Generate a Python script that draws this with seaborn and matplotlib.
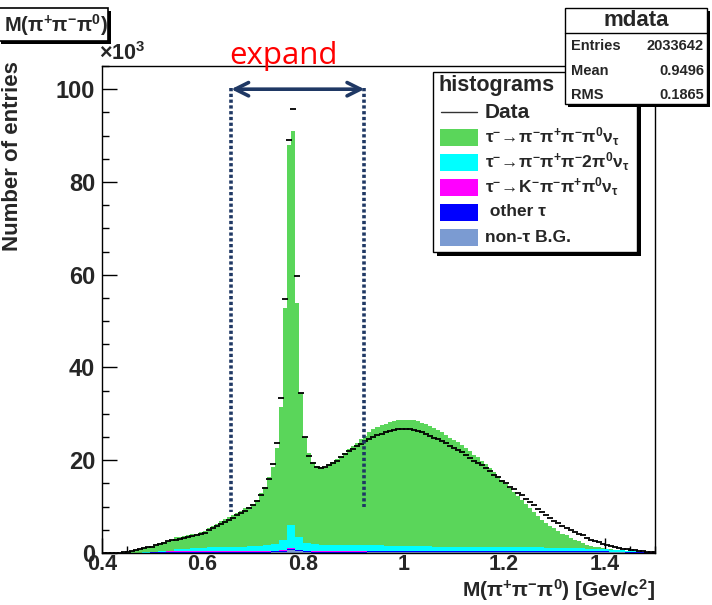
import numpy as np
import pandas as pd
import matplotlib
matplotlib.use("Agg")
import matplotlib.pyplot as plt
import seaborn as sns
from matplotlib.patches import Rectangle
from matplotlib.ticker import MultipleLocator, FixedLocator, FixedFormatter

# ---------------- data (thousands of entries per bin) ----------------
X_LO, X_HI = 0.4, 1.5
BIN_W = 0.008          # bin width of the main histograms
SMALL_W = 0.016        # bin width used for the small background components

# tau -> pi- pi+ pi- pi0 nu (visible top of the stack), bins 0.400 ... 1.504
green_counts = [
    0, 0, 0, 0, 0.05, 0.15, 0.3, 0.45, 0.6, 0.8,
    1.0, 1.2, 1.5, 1.8, 2.1, 2.3, 2.6, 2.9, 3.5, 3.4,
    3.6, 3.8, 4.0, 4.2, 4.5, 4.8, 5.4, 5.8, 6.3, 6.8,
    7.3, 7.7, 8.2, 8.6, 9.0, 9.6, 10.0, 10.6, 11.4, 12.9,
    14.3, 16.4, 18.6, 22.6, 31.5, 52.8, 88.0, 91.0, 54.0, 34.5,
    25.0, 21.5, 19.6, 18.8, 18.5, 18.6, 19.1, 19.6, 20.2, 20.8,
    21.6, 22.4, 23.1, 23.7, 24.5, 25.3, 26.0, 26.7, 27.2, 27.6,
    27.9, 28.2, 28.4, 28.6, 28.7, 28.7, 28.7, 28.6, 28.4, 28.1,
    27.8, 27.4, 27.0, 26.5, 26.0, 25.5, 24.9, 24.4, 23.9, 23.3,
    22.6, 21.9, 21.2, 20.6, 19.9, 19.1, 18.3, 17.4, 16.6, 15.7,
    14.9, 14.0, 13.1, 12.3, 11.4, 10.5, 9.6, 8.8, 7.9, 7.1,
    6.5, 5.9, 5.3, 4.7, 4.2, 3.8, 3.3, 2.9, 2.5, 2.1,
    1.8, 1.6, 1.4, 1.2, 1.0, 0.9, 0.8, 0.7, 0.6, 0.5,
    0.45, 0.4, 0.35, 0.3, 0.25, 0.2, 0.2, 0.15,
]

data_counts = [
    0, 0, 0, 0, 0.05, 0.15, 0.3, 0.4, 0.6, 0.8,
    1.0, 1.2, 1.4, 1.7, 2.0, 2.2, 2.5, 2.7, 2.9, 3.1,
    3.3, 3.5, 3.7, 3.9, 4.1, 4.4, 5.0, 5.4, 5.9, 6.3,
    6.7, 7.1, 7.6, 8.1, 8.6, 9.1, 9.7, 10.4, 11.3, 12.4,
    14.0, 16.0, 19.2, 23.7, 33.5, 54.7, 89.0, 95.7, 59.7, 34.5,
    25.0, 21.0, 19.4, 18.6, 18.4, 18.5, 18.9, 19.3, 19.9, 20.6,
    21.3, 21.9, 22.5, 23.1, 23.6, 24.1, 24.6, 25.0, 25.4, 25.7,
    26.0, 26.3, 26.5, 26.7, 26.8, 26.8, 26.7, 26.5, 26.3, 26.0,
    25.6, 25.2, 24.8, 24.5, 24.2, 23.7, 23.1, 22.6, 22.1, 21.7,
    21.1, 20.5, 19.9, 19.4, 18.9, 18.3, 17.6, 16.9, 16.3, 15.6,
    15.0, 14.3, 13.7, 13.0, 12.4, 11.7, 11.0, 10.3, 9.5, 8.8,
    8.2, 7.6, 7.0, 6.4, 5.9, 5.4, 4.9, 4.5, 4.1, 3.8,
    3.3, 2.9, 2.6, 2.3, 2.0, 1.8, 1.5, 1.3, 1.1, 0.9,
    0.8, 0.7, 0.55, 0.45, 0.35, 0.3, 0.25, 0.2,
]

# small components, bins 0.400 ... 1.504 in steps of 0.016
cyan_counts = [
    0, 0, 0, 0.05, 0.1, 0.15, 0.15, 0.1, 0.15, 0.45,
    0.55, 0.65, 0.75, 0.85, 0.85, 0.95, 0.95, 1.05, 1.15, 1.25,
    1.35, 1.6, 2.2, 4.85, 2.8, 1.8, 1.65, 1.45, 1.35, 1.35,
    1.35, 1.35, 1.35, 1.3, 1.25, 1.15, 1.15, 1.15, 1.05, 1.05,
    1.05, 0.95, 0.95, 0.95, 0.95, 0.95, 0.85, 0.85, 0.85, 0.85,
    0.72, 0.72, 0.72, 0.72, 0.72, 0.67, 0.67, 0.67, 0.57, 0.57,
    0.53, 0.53, 0.43, 0.43, 0.33, 0.29, 0.19, 0.14, 0.09,
]
magenta_counts = [
    0, 0, 0, 0, 0, 0, 0, 0.05, 0.05, 0.05,
    0.05, 0.05, 0.05, 0.05, 0.05, 0.05, 0.05, 0.05, 0.05, 0.05,
    0.05, 0.05, 0.1, 0.3, 0.15, 0.05, 0.05, 0.05, 0.05, 0.05,
    0.05, 0.05, 0.05, 0.05, 0.05, 0.05, 0.05, 0.05, 0.05, 0.05,
    0.05, 0.05, 0.05, 0.05, 0.05, 0.05, 0.05, 0.05, 0.05, 0.05,
    0.03, 0.03, 0.03, 0.03, 0.03, 0.03, 0.03, 0.03, 0.03, 0.03,
    0.02, 0.02, 0.02, 0.02, 0.02, 0.01, 0.01, 0.01, 0.01,
]
blue_counts = [
    0, 0, 0, 0, 0, 0.05, 0.1, 0.15, 0.2, 0.2,
    0.2, 0.2, 0.2, 0.2, 0.2, 0.2, 0.2, 0.2, 0.2, 0.2,
    0.2, 0.2, 0.2, 0.25, 0.2, 0.2, 0.2, 0.2, 0.2, 0.2,
    0.2, 0.2, 0.2, 0.2, 0.2, 0.2, 0.2, 0.2, 0.2, 0.2,
    0.2, 0.2, 0.2, 0.2, 0.2, 0.2, 0.2, 0.2, 0.2, 0.2,
    0.25, 0.25, 0.25, 0.25, 0.25, 0.2, 0.2, 0.2, 0.2, 0.2,
    0.15, 0.15, 0.15, 0.1, 0.1, 0.1, 0.1, 0.05, 0.05,
]
lightblue_counts = [
    0, 0, 0, 0, 0, 0, 0.05, 0.1, 0.1, 0.1,
    0.1, 0.1, 0.1, 0.1, 0.1, 0.1, 0.1, 0.1, 0.1, 0.1,
    0.1, 0.15, 0.3, 0.6, 0.35, 0.15, 0.1, 0.1, 0.1, 0.1,
    0.1, 0.1, 0.1, 0.15, 0.2, 0.2, 0.2, 0.2, 0.2, 0.2,
    0.2, 0.2, 0.2, 0.2, 0.2, 0.2, 0.2, 0.2, 0.2, 0.2,
    0.2, 0.2, 0.2, 0.2, 0.2, 0.2, 0.2, 0.2, 0.2, 0.2,
    0.2, 0.2, 0.2, 0.15, 0.15, 0.1, 0.1, 0.1, 0.05,
]

component_names = ["pi3pi0", "pi2pi0", "Kpi", "other", "nontau"]
legend_labels = [
    r"$\tau^{-}\!\rightarrow\!\pi^{-}\pi^{+}\pi^{-}\pi^{0}\nu_{\tau}$",
    r"$\tau^{-}\!\rightarrow\!\pi^{-}\pi^{+}\pi^{-}2\pi^{0}\nu_{\tau}$",
    r"$\tau^{-}\!\rightarrow\!K^{-}\pi^{-}\pi^{+}\pi^{0}\nu_{\tau}$",
    " other \u03c4",
    "non-\u03c4 B.G.",
]
xticks = [0.4, 0.6, 0.8, 1.0, 1.2, 1.4]
xtick_labels = ["0.4", "0.6", "0.8", "1", "1.2", "1.4"]
yticks = [0, 20, 40, 60, 80, 100]
ytick_labels = ["0", "20", "40", "60", "80", "100"]
stats_rows = [("Entries", "2033642"), ("Mean", "0.9496"), ("RMS", "0.1865")]

# annotation (expand window)
EXPAND_LO, EXPAND_HI = 0.657, 0.922
EXPAND_Y = 100.0

assert len(green_counts) == len(data_counts) == 138
assert len(cyan_counts) == len(magenta_counts) == len(blue_counts) == len(lightblue_counts) == 69

# ---------------- style ----------------
GREEN = "#5ad65a"
COLORS = {"pi3pi0": GREEN, "pi2pi0": "#00ffff", "Kpi": "#ff00ff",
          "other": "#0000ff", "nontau": "#7b9bd2"}
NAVY = "#1f3864"

sns.set_theme(style="white")
plt.rcParams["font.family"] = ["Liberation Sans", "DejaVu Sans"]
plt.rcParams["font.weight"] = "bold"
plt.rcParams["mathtext.fontset"] = "custom"
plt.rcParams["mathtext.rm"] = "Liberation Sans:bold"
plt.rcParams["mathtext.it"] = "Liberation Sans:bold"
plt.rcParams["mathtext.bf"] = "Liberation Sans:bold"
plt.rcParams["mathtext.sf"] = "Liberation Sans:bold"
plt.rcParams["mathtext.default"] = "bf"

W, H = 712, 605
fig = plt.figure(figsize=(W / 100, H / 100), dpi=100)
fig.patch.set_facecolor("white")
ax = fig.add_axes([102 / W, 1 - 553 / H, (655 - 102) / W, (553 - 66) / H])

edges = X_LO + BIN_W * np.arange(len(green_counts) + 1)
centers = edges[:-1] + BIN_W / 2
s_edges = X_LO + SMALL_W * np.arange(len(cyan_counts) + 1)
s_centers = s_edges[:-1] + SMALL_W / 2

main = pd.DataFrame({"x": centers, "green": green_counts, "data": data_counts})

# main signal component (visible top of the stack)
sns.histplot(data=main, x="x", weights="green", bins=list(edges),
             element="step", fill=True, color=GREEN, alpha=1, linewidth=0,
             ax=ax)

# small components stacked at the bottom
n = len(s_centers)
small = pd.DataFrame({
    "x": np.concatenate([s_centers] * 4),
    "w": cyan_counts + magenta_counts + blue_counts + lightblue_counts,
    "comp": ["pi2pi0"] * n + ["Kpi"] * n + ["other"] * n + ["nontau"] * n,
})
sns.histplot(data=small, x="x", weights="w", hue="comp",
             hue_order=["pi2pi0", "Kpi", "other", "nontau"],
             palette=COLORS, multiple="stack", bins=list(s_edges),
             element="step", fill=True, alpha=1, linewidth=0, legend=False,
             ax=ax)

# data points
sns.scatterplot(data=main, x="x", y="data", marker="_", s=16, color="black",
                linewidth=1.3, ax=ax, zorder=6)

ax.set_xlim(X_LO, X_HI)
ax.set_ylim(0, 105)
ax.set_xlabel("")
ax.set_ylabel("")
ax.xaxis.set_major_locator(FixedLocator(xticks))
ax.xaxis.set_major_formatter(FixedFormatter(xtick_labels))
ax.yaxis.set_major_locator(FixedLocator(yticks))
ax.yaxis.set_major_formatter(FixedFormatter(ytick_labels))
ax.xaxis.set_minor_locator(MultipleLocator(0.05))
ax.yaxis.set_minor_locator(MultipleLocator(5))
ax.tick_params(which="both", direction="in", bottom=True, left=True,
               top=False, right=False, color="black", width=1.0)
ax.tick_params(which="major", length=10.5, labelsize=17, pad=5)
ax.tick_params(which="minor", length=5.2)
ax.tick_params(axis="x", pad=1.0, labelsize=15.5)
for lab in ax.get_xticklabels() + ax.get_yticklabels():
    lab.set_fontweight("bold")
for sp in ax.spines.values():
    sp.set_color("black")
    sp.set_linewidth(1.0)

# expand window annotation
ax.plot([EXPAND_LO, EXPAND_LO], [EXPAND_Y + 0.3, 8.9], color=NAVY, lw=2.6,
        linestyle=(0, (0.9, 0.7)), zorder=7)
ax.plot([EXPAND_HI, EXPAND_HI], [EXPAND_Y + 0.3, 10.0], color=NAVY, lw=2.6,
        linestyle=(0, (0.9, 0.7)), zorder=7)
ax.annotate("", xy=(EXPAND_HI, EXPAND_Y), xytext=(EXPAND_LO, EXPAND_Y),
            arrowprops=dict(arrowstyle="<->,head_length=0.8,head_width=0.4",
                            lw=2.6, color=NAVY, shrinkA=0, shrinkB=0),
            zorder=8)

# ---------------- overlay in pixel coordinates ----------------
ov = fig.add_axes([0, 0, 1, 1], zorder=10)
ov.set_xlim(0, W)
ov.set_ylim(H, 0)
ov.axis("off")
ov.patch.set_alpha(0)


def box(x, y, w, h, shadow=3, lw=1.2, z=1):
    ov.add_patch(Rectangle((x + shadow, y + shadow), w, h, facecolor="black",
                           edgecolor="black", lw=0, zorder=z))
    ov.add_patch(Rectangle((x, y), w, h, facecolor="white", edgecolor="black",
                           lw=lw, zorder=z + 0.1))


# red "expand" label
ov.text(229, 64, "expand", color="red", fontsize=22.5, fontweight="normal",
        family=["Open Sans", "DejaVu Sans"], ha="left", va="baseline")

# x10^3
ov.text(99, 54, r"$\times$10$^{3}$", fontsize=15.5, fontweight="bold",
        ha="left", va="center")

# axis titles
ov.text(13, 156, "Number of entries", rotation=90, fontsize=16,
        fontweight="bold", ha="center", va="center")
ov.text(655, 590, r"M($\pi^{+}\pi^{-}\pi^{0}$) [Gev/c$^{2}$]", fontsize=15,
        fontweight="bold", ha="right", va="center")

# title box
box(-2, 8, 110, 33, shadow=3, z=2)
ov.text(56, 25, r"M($\pi^{+}\pi^{-}\pi^{0}$)", fontsize=14.5,
        fontweight="bold", ha="center", va="center", zorder=3)

# legend box
box(433, 72, 204, 180, shadow=4, lw=1.0, z=2)
ov.text(438, 85, "histograms", fontsize=15.5, fontweight="bold",
        ha="left", va="center", zorder=3)
row_y = [112, 137, 162, 187, 212, 237]
ov.plot([441, 477], [row_y[0], row_y[0]], color="#333333", lw=1.0, zorder=3)
ov.text(485, row_y[0], "Data", fontsize=15, fontweight="bold", ha="left",
        va="center", zorder=3)
for name, lab, yy in zip(component_names, legend_labels, row_y[1:]):
    ov.add_patch(Rectangle((440, yy - 8.5), 38, 17, facecolor=COLORS[name],
                           edgecolor="none", zorder=3))
    ov.text(485, yy, lab, fontsize=12.5, fontweight="bold", ha="left",
            va="center", zorder=3)

# stats box
box(565, 8, 142, 96, shadow=3, lw=1.0, z=4)
ov.plot([565, 707], [33, 33], color="black", lw=1.0, zorder=5)
ov.text(636, 21, "mdata", fontsize=16, fontweight="bold", ha="center",
        va="center", zorder=5)
for (k, v), yy in zip(stats_rows, [46, 71, 95]):
    ov.text(571, yy, k, fontsize=10.5, fontweight="bold", ha="left",
            va="center", zorder=5)
    ov.text(704, yy, v, fontsize=10.5, fontweight="bold", ha="right",
            va="center", zorder=5)

fig.savefig("out.png", dpi=100, facecolor="white")
